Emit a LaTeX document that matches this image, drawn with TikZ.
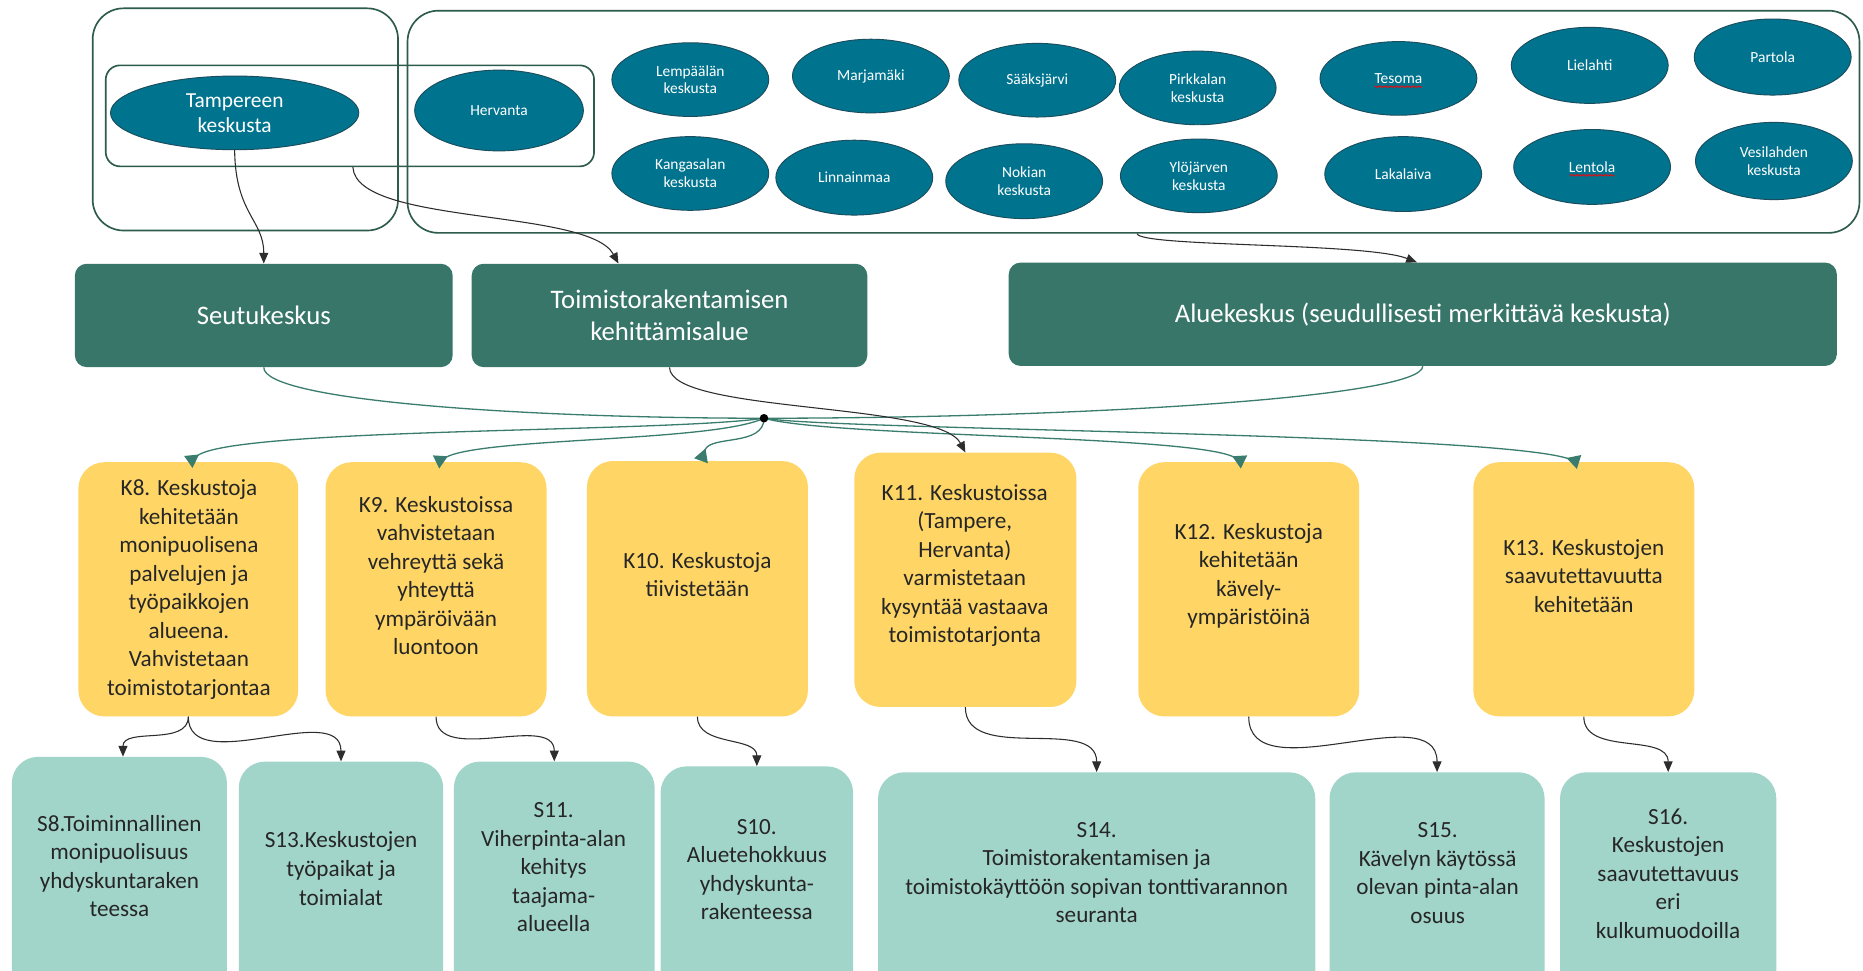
\documentclass[tikz,border=0pt]{standalone}
\usepackage{fontspec}
\setmainfont{Carlito}
\usetikzlibrary{shapes.geometric,arrows.meta,decorations.pathmorphing,calc}
\definecolor{ellfill}{RGB}{0,116,143}
\definecolor{elldraw}{RGB}{26,78,94}
\definecolor{gbox}{RGB}{56,118,106}
\definecolor{frame}{RGB}{45,92,78}
\definecolor{ybox}{RGB}{255,214,102}
\definecolor{sbox}{RGB}{162,213,201}
\definecolor{tealline}{RGB}{58,125,110}
\definecolor{darkline}{RGB}{45,45,45}
\definecolor{txt}{RGB}{38,38,38}
\begin{document}
\begin{tikzpicture}[x=1pt,y=1pt,
  ell/.style={ellipse, fill=ellfill, draw=elldraw, line width=0.8pt, minimum width=132pt, minimum height=62pt, inner sep=0pt, text=white, align=center, font=\fontsize{13}{15}\selectfont},
  frm/.style={draw=frame, line width=1.4pt, inner sep=0pt},
  gb/.style={fill=gbox, rounded corners=10pt, inner sep=0pt, minimum height=87pt, text=white, align=center, font=\fontsize{22.5}{27}\selectfont},
  yb/.style={fill=ybox, rounded corners=22pt, inner sep=0pt, minimum width=186pt, minimum height=214pt},
  sb/.style={fill=sbox, rounded corners=22pt, inner sep=0pt, minimum height=240pt},
  ktxt/.style={text=txt, align=center, font=\fontsize{19.5}{24}\selectfont, inner sep=0pt},
  blk/.style={draw=darkline, line width=0.9pt, -{Triangle[length=9pt,width=7.5pt]}},
  tl/.style={draw=tealline, line width=1.1pt},
  tla/.style={tl, -{Triangle[length=11pt,width=12pt,reversed,fill=tealline]}},
  spell/.style={draw=red, line width=0.6pt, decorate, decoration={snake, amplitude=0.7pt, segment length=2.6pt}},
]
\useasboundingbox (0,0) rectangle (1568,-817);
\clip (0,0) rectangle (1568,-817);
\fill[white] (0,0) rectangle (1568,-817);

% frames
\node[frm, rounded corners=26pt, minimum width=257pt, minimum height=187pt] (frameL) at (206.5,-100.5) {};
\node[frm, rounded corners=26pt, minimum width=1222pt, minimum height=187pt] (frameR) at (954,-102.5) {};
\node[frm, rounded corners=12pt, minimum width=411pt, minimum height=85pt] (inner) at (294.5,-97.5) {};

% ellipses
\node[ell, minimum width=209pt, font=\fontsize{18}{21}\selectfont] (tamp) at (197.5,-95) {Tampereen\\keskusta};
\node[ell, minimum width=142pt, minimum height=68pt] (herv) at (420,-93) {Hervanta};
\node[ell] (lemp) at (581,-67) {Lempäälän\\keskusta};
\node[ell] (marj) at (733,-64) {Marjamäki};
\node[ell] (saak) at (873,-67.5) {Sääksjärvi};
\node[ell] (pirk) at (1008,-74) {Pirkkalan\\keskusta};
\node[ell] (teso) at (1177,-66) {Tesoma};
\node[ell, minimum height=64pt] (liel) at (1338,-55) {Lielahti};
\node[ell, minimum height=64pt] (part) at (1492,-48) {Partola};
\node[ell] (kang) at (581,-146) {Kangasalan\\keskusta};
\node[ell, minimum height=63pt] (linn) at (719,-149.5) {Linnainmaa};
\node[ell, minimum height=63pt] (noki) at (862,-152.5) {Nokian\\keskusta};
\node[ell] (ylo) at (1009,-148) {Ylöjärven\\keskusta};
\node[ell, minimum height=63pt] (laka) at (1181,-146.5) {Lakalaiva};
\node[ell, minimum height=63pt] (lent) at (1340,-140.5) {Lentola};
\node[ell, minimum height=65pt] (vesi) at (1493,-135.5) {Vesilahden\\keskusta};
\draw[spell] ($(teso.center)+(-20,-7)$) -- ($(teso.center)+(20,-7)$);
\draw[spell] ($(lent.center)+(-19,-7)$) -- ($(lent.center)+(19,-7)$);

% green boxes
\node[gb, minimum width=318pt] (seutu) at (222,-265.5) {Seutukeskus};
\node[gb, minimum width=333pt] (toim) at (563.5,-265.5) {Toimistorakentamisen\\kehittämisalue};
\node[gb, minimum width=697pt] (alue) at (1197.5,-264.5) {Aluekeskus (seudullisesti merkittävä keskusta)};

% yellow boxes
\node[yb, minimum width=185pt] (K8) at (158.5,-496) {};
\node[yb] (K9) at (367,-496) {};
\node[yb, minimum height=215pt] (K10) at (587,-495.5) {};
\node[yb, minimum width=187pt] (K11) at (812.5,-488) {};
\node[yb] (K12) at (1051,-496) {};
\node[yb] (K13) at (1333,-496) {};
\node[ktxt] (K8t) at (159,-496) {K8. Keskustoja\\kehitetään\\monipuolisena\\palvelujen ja\\työpaikkojen\\alueena.\\Vahvistetaan\\toimistotarjontaa};
\node[ktxt] (K9t) at (367,-484.5) {K9. Keskustoissa\\vahvistetaan\\vehreyttä sekä\\yhteyttä\\ympäröivään\\luontoon};
\node[ktxt] (K10t) at (587,-483.5) {K10. Keskustoja\\tiivistetään};
\node[ktxt] (K11t) at (812,-476) {K11. Keskustoissa\\(Tampere,\\Hervanta)\\varmistetaan\\kysyntää vastaava\\toimistotarjonta};
\node[ktxt] (K12t) at (1051,-484.5) {K12. Keskustoja\\kehitetään\\kävely-\\ympäristöinä};
\node[ktxt] (K13t) at (1333,-484.5) {K13. Keskustojen\\saavutettavuutta\\kehitetään};

% bottom boxes
\node[sb, minimum width=181pt] (S8) at (100.5,-757) {};
\node[sb, minimum width=172pt] (S13) at (287,-761) {};
\node[sb, minimum width=169pt] (S11) at (466.5,-761) {};
\node[sb, minimum width=162pt] (S10) at (637,-765) {};
\node[sb, minimum width=368pt] (S14) at (923,-770) {};
\node[sb, minimum width=181pt] (S15) at (1209.5,-770) {};
\node[sb, minimum width=182pt] (S16) at (1404,-770) {};
\node[ktxt] (S8t) at (100.5,-729) {S8.Toiminnallinen\\monipuolisuus\\yhdyskuntaraken\\teessa};
\node[ktxt] (S13t) at (287,-731) {S13.Keskustojen\\työpaikat ja\\toimialat};
\node[ktxt] (S11t) at (466,-730) {S11.\\Viherpinta-alan\\kehitys\\taajama-\\alueella};
\node[ktxt] (S10t) at (637,-732) {S10.\\Aluetehokkuus\\yhdyskunta-\\rakenteessa};
\node[ktxt] (S14t) at (923,-734.5) {S14.\\Toimistorakentamisen ja\\toimistokäyttöön sopivan tonttivarannon\\seuranta};
\node[ktxt] (S15t) at (1210,-735) {S15.\\Kävelyn käytössä\\olevan pinta-alan\\osuus};
\node[ktxt] (S16t) at (1404,-735) {S16.\\Keskustojen\\saavutettavuus\\eri\\kulkumuodoilla};

% top black connectors
\draw[blk] (tamp.south) .. controls (198,-180) and (222,-185) .. (seutu.north);
\draw[blk] ($(inner.south)+(2.5,0)$) .. controls (300,-190) and (495,-175) .. ($(toim.north)+(-43,0)$);
\draw[blk] ($(frameR.south)+(3,0)$) .. controls (960,-208) and (1150,-204) .. ($(alue.north)+(-5,0)$);

% junction
\coordinate (J) at (643,-352);
\draw[tl] (seutu.south) .. controls (222,-338) and (450,-352) .. (J);
\draw[tl] (alue.south) .. controls (1197,-335) and (900,-352) .. (J);
\draw[tla] (J) .. controls (560,-364) and (200,-360) .. (K8.north);
\draw[tla] (J) .. controls (600,-372) and (410,-368) .. (K9.north);
\draw[tla] (J) .. controls (643,-376) and (598,-366) .. ($(K10.north)+(3,0)$);
\draw[tla] (J) .. controls (700,-368) and (1000,-366) .. ($(K12.north)+(-4,0)$);
\draw[tla] (J) .. controls (700,-362) and (1250,-364) .. ($(K13.north)+(-4,0)$);
\fill[black] (J) circle (3.6pt);
\draw[blk] (toim.south) .. controls (564,-348) and (790,-338) .. (K11.north);

% bottom black connectors
\draw[blk] (K8.south) to[out=-90,in=90] ($(S8.north)+(3,0)$);
\draw[blk] (K8.south) to[out=-90,in=90] (S13.north);
\draw[blk] (K9.south) to[out=-90,in=90] (S11.north);
\draw[blk] (K10.south) to[out=-90,in=90] (S10.north);
\draw[blk] (K11.south) to[out=-90,in=90] (S14.north);
\draw[blk] (K12.south) to[out=-90,in=90] (S15.north);
\draw[blk] (K13.south) to[out=-90,in=90] (S16.north);
\end{tikzpicture}
\end{document}
